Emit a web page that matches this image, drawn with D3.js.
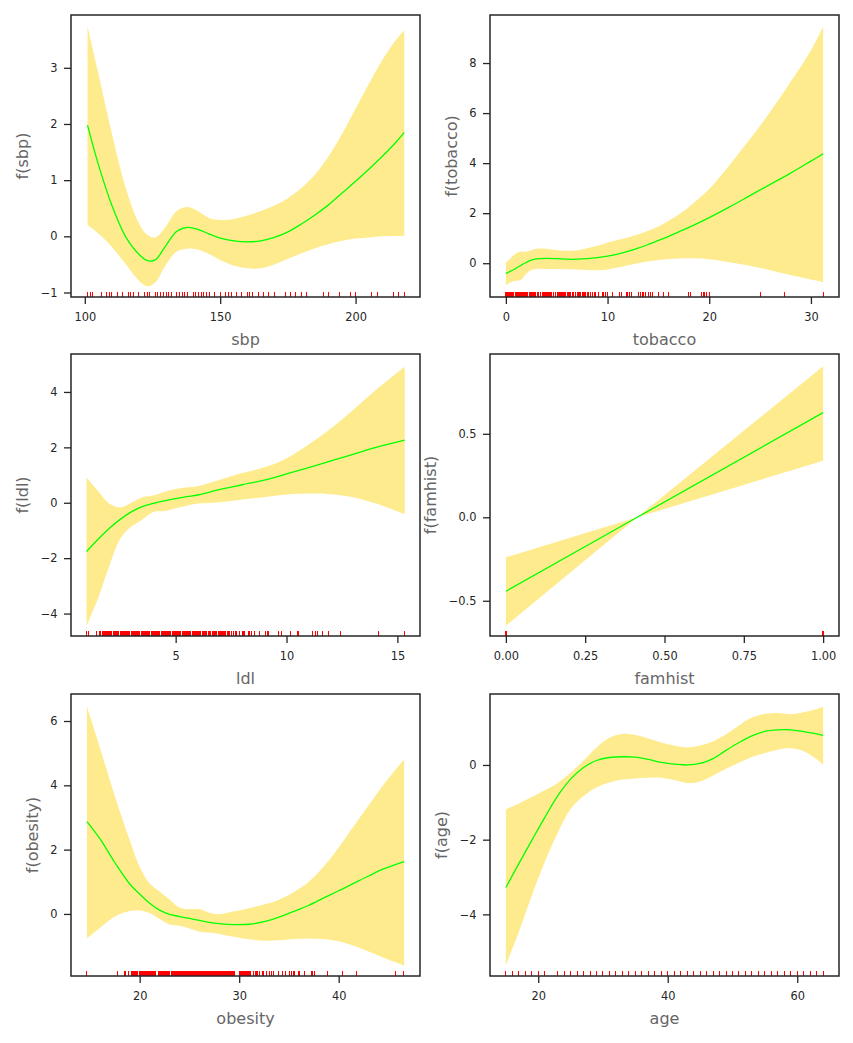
<!DOCTYPE html>
<html><head><meta charset="utf-8">
<script src="https://cdn.jsdelivr.net/npm/d3@7"></script>
<style>
body{margin:0;background:#fff}
text{font-family:"DejaVu Sans",sans-serif}
</style>
</head><body>
<svg id="c" width="853" height="1043"></svg>
<script>
// ---------- data ----------
const sbpX     = [101,105,110,115,120,123,126,130,134,138,142,146,150,155,160,165,170,175,180,185,190,195,200,205,210,215,218];
const sbpMean  = [1.98,1.28,0.55,0.0,-0.32,-0.43,-0.42,-0.16,0.09,0.16,0.12,0.04,-0.03,-0.08,-0.1,-0.08,-0.02,0.08,0.22,0.38,0.56,0.77,0.98,1.2,1.43,1.68,1.85];
const sbpUpper = [3.74,2.9,1.83,0.88,0.23,0.03,-0.02,0.18,0.45,0.52,0.44,0.32,0.29,0.31,0.37,0.45,0.55,0.68,0.86,1.1,1.42,1.82,2.27,2.72,3.15,3.5,3.67];
const sbpLower = [0.2,0.05,-0.19,-0.49,-0.79,-0.89,-0.82,-0.5,-0.27,-0.22,-0.24,-0.32,-0.42,-0.52,-0.57,-0.57,-0.5,-0.4,-0.3,-0.21,-0.14,-0.08,-0.04,-0.02,0,0.005,0.01];
const sbpRug   = [101,102,103,106,108,109,110,112,114,116,117,118,120,122,123,124,126,127,128,129,130,131,132,134,135,136,137,138,140,141,142,143,144,145,146,148,150,152,153,154,156,158,160,161,162,164,166,168,170,174,176,178,180,182,188,190,194,198,200,206,208,214,216,218];

const tobX     = [0,0.3,0.7,1,1.5,2,2.5,3,4,5,6,7,8,9,10,11,12,13,14,15,16,17,18,19,20,22,24,26,28,30,31.2];
const tobMean  = [-0.41,-0.35,-0.27,-0.2,-0.08,0.03,0.12,0.17,0.19,0.18,0.16,0.16,0.18,0.22,0.28,0.36,0.47,0.6,0.75,0.91,1.07,1.25,1.43,1.62,1.82,2.25,2.7,3.15,3.6,4.08,4.37];
const tobUpper = [0.05,0.12,0.3,0.4,0.47,0.46,0.52,0.58,0.58,0.52,0.5,0.52,0.6,0.7,0.83,0.93,1.03,1.15,1.3,1.47,1.7,1.95,2.25,2.6,2.97,3.93,4.96,6.05,7.25,8.5,9.45];
const tobLower = [-0.88,-0.8,-0.72,-0.7,-0.66,-0.42,-0.27,-0.23,-0.23,-0.23,-0.24,-0.25,-0.27,-0.28,-0.25,-0.17,-0.08,0.0,0.07,0.13,0.17,0.19,0.2,0.19,0.16,0.04,-0.1,-0.28,-0.47,-0.65,-0.75];
const tobRug   = [0,0.1,0.2,0.3,0.4,0.5,0.6,0.7,0.8,0.9,1.0,1.1,1.2,1.3,1.4,1.5,1.6,1.7,1.8,1.9,2.0,2.1,2.3,2.4,2.5,2.6,2.7,2.8,2.9,3.1,3.2,3.4,3.6,3.7,3.8,3.9,4.0,4.1,4.2,4.3,4.4,4.5,4.7,4.9,5.1,5.2,5.3,5.4,5.5,5.6,5.7,5.8,5.9,6.1,6.2,6.3,6.4,6.6,6.7,6.8,7.0,7.1,7.2,7.3,7.5,7.6,7.7,7.8,8.0,8.1,8.3,
  8.53,8.7,8.86,9.09,9.48,9.65,9.81,10.0,10.47,11.2,11.4,11.9,12.0,12.2,12.4,13.0,13.2,13.4,13.5,13.7,14.0,14.2,14.4,15.0,15.5,16.0,18.0,18.2,19.2,19.4,19.5,19.7,20.0,25.0,27.4,31.2];

const ldlX     = [0.98,1.5,2,2.5,3,3.5,4,4.5,5,5.5,6,7,8,9,10,11,12,13,14,15.33];
const ldlMean  = [-1.76,-1.32,-0.93,-0.6,-0.33,-0.14,-0.02,0.07,0.15,0.22,0.28,0.48,0.65,0.82,1.04,1.27,1.51,1.75,1.99,2.26];
const ldlUpper = [0.91,0.42,-0.03,-0.17,0.0,0.2,0.26,0.4,0.5,0.55,0.6,0.83,1.07,1.28,1.6,2.1,2.68,3.35,4.05,4.91];
const ldlLower = [-4.45,-3.45,-2.3,-1.3,-0.86,-0.6,-0.33,-0.3,-0.2,-0.11,-0.03,0.02,0.12,0.2,0.3,0.33,0.31,0.2,-0.02,-0.41];
const ldlRug   = [0.99,1.07,1.44,1.55,1.59,1.7,1.74,1.78,1.82,1.86,1.9,1.94,1.98,2.02,2.06,2.09,2.19,
  2.24,2.29,2.34,2.39,2.44,2.49,2.54,2.59,2.64,2.69,2.74,2.79,2.84,2.89,2.94,2.99,3.04,3.09,3.14,3.19,3.24,3.29,3.34,3.39,3.44,3.49,3.54,3.59,3.64,3.69,3.74,3.79,3.84,3.89,3.94,3.99,
  4.04,4.09,4.14,4.19,4.24,4.29,4.34,4.39,4.44,4.49,4.54,4.59,4.64,4.69,4.74,4.79,4.84,4.89,4.94,4.99,5.04,5.09,5.14,5.19,5.24,5.29,5.34,5.39,5.44,5.49,5.54,5.59,5.64,5.69,5.74,5.79,
  5.84,5.89,5.94,5.99,6.04,6.09,6.14,6.19,6.24,6.29,6.34,6.39,6.49,6.54,6.59,6.64,6.69,6.74,6.79,6.84,6.92,6.97,7.02,7.07,7.12,7.17,7.22,7.27,7.32,7.37,7.44,
  7.52,7.6,7.7,7.75,7.9,8.0,8.05,8.12,8.3,8.35,8.42,8.55,8.8,9.06,9.12,9.18,9.66,9.78,10.2,10.5,10.55,11.17,11.29,11.41,11.62,11.89,12.42,14.16,15.32];

const famX     = [0,0.414,1];
const famMean  = [-0.443,0.0,0.627];
const famUpper = [-0.24,0.0,0.904];
const famLower = [-0.649,0.0,0.339];
const famRug   = [0,1];

const obeX     = [14.7,16,17.5,19,20,21,22,23,24,25,26,27,28,29.5,31,32.5,34,35.5,37,38.5,40,41.5,43,44.5,46.58];
const obeMean  = [2.87,2.34,1.6,0.93,0.62,0.33,0.12,-0.01,-0.08,-0.14,-0.2,-0.26,-0.3,-0.33,-0.32,-0.24,-0.1,0.08,0.27,0.5,0.72,0.95,1.18,1.4,1.63];
const obeUpper = [6.45,5.18,3.67,2.3,1.47,0.95,0.7,0.45,0.2,0.15,0.15,0.04,-0.01,0.08,0.18,0.29,0.44,0.68,1.0,1.48,2.07,2.73,3.37,4.02,4.81];
const obeLower = [-0.76,-0.44,-0.08,0.09,0.11,0.03,-0.16,-0.33,-0.37,-0.45,-0.55,-0.58,-0.62,-0.71,-0.79,-0.83,-0.82,-0.78,-0.76,-0.78,-0.85,-0.99,-1.17,-1.36,-1.6];
const obeRug   = [14.7,17.82,18.43,18.56,18.83,19.2,19.3,19.4,19.5,19.6,19.7,19.8,20.0,20.1,20.2,20.3,20.4,20.5,20.6,20.7,20.8,20.9,21.0,21.1,21.2,21.3,21.4,21.5,21.6,
  21.85,21.95,22.05,22.15,22.25,22.35,22.45,22.55,22.65,22.75,22.85,22.95,
  23.15,23.25,23.35,23.45,23.55,23.65,23.75,23.85,23.95,24.05,24.15,24.25,24.35,24.45,24.55,24.65,24.75,24.85,24.95,25.05,25.15,25.25,25.35,25.45,25.55,25.65,25.75,25.85,25.95,
  26.05,26.15,26.25,26.35,26.45,26.55,26.65,26.75,26.85,26.95,27.05,27.15,27.25,27.35,27.45,27.55,27.65,27.75,27.85,27.95,28.05,28.15,28.25,28.35,28.45,28.55,28.65,28.75,28.85,28.95,
  29.05,29.15,29.25,29.35,29.45,29.55,30.05,30.15,30.25,30.35,30.45,30.55,30.65,30.75,30.85,30.95,31.05,31.15,
  31.46,31.59,31.73,31.89,32.09,32.33,32.46,32.73,33.0,33.23,33.4,33.97,34.4,34.64,35.08,35.24,35.41,35.58,35.98,36.08,36.52,37.25,37.39,37.52,38.83,40.34,41.78,45.73,46.53];

const ageX     = [15,17,19,21,23,25,27,29,31,33,35,37,39,41,43,45,47,49,51,53,55,57,59,61,63,64];
const ageMean  = [-3.28,-2.64,-2.02,-1.41,-0.83,-0.38,-0.07,0.12,0.2,0.22,0.21,0.15,0.07,0.02,0.0,0.04,0.17,0.39,0.6,0.78,0.9,0.94,0.94,0.89,0.83,0.79];
const ageUpper = [-1.19,-1.03,-0.86,-0.68,-0.48,-0.21,0.12,0.47,0.73,0.83,0.8,0.71,0.6,0.52,0.47,0.52,0.63,0.82,1.06,1.27,1.37,1.39,1.36,1.41,1.5,1.56];
const ageLower = [-5.36,-4.47,-3.5,-2.6,-1.82,-1.18,-0.83,-0.6,-0.47,-0.39,-0.36,-0.34,-0.34,-0.4,-0.48,-0.44,-0.28,-0.1,0.06,0.21,0.32,0.41,0.45,0.37,0.15,0.0];
const ageRug   = [15,16,17,18,19,20,21,23,24,25,26,27,28,29,30,31,32,33,34,35,36,37,38,39,40,41,42,43,44,45,46,47,48,49,50,51,52,53,54,55,56,57,58,59,60,61,62,63,64];

// tick labels
const sbpXTicks=[100,150,200], sbpYTicks=[-1,0,1,2,3];
const tobXTicks=[0,10,20,30], tobYTicks=[0,2,4,6,8];
const ldlXTicks=[5,10,15], ldlYTicks=[-4,-2,0,2,4];
const famXTicks=[0,0.25,0.5,0.75,1], famYTicks=[-0.5,0,0.5];
const obeXTicks=[20,30,40], obeYTicks=[0,2,4,6];
const ageXTicks=[20,40,60], ageYTicks=[-4,-2,0];

// ---------- layout / styling ----------
const cols=[[71,420],[490,839]];
const rows=[[15,297],[354,636],[694,976]];
const smooth=d3.curveCatmullRom.alpha(0.5);

const panels=[
 {name:"sbp",x:sbpX,mean:sbpMean,up:sbpUpper,lo:sbpLower,rug:sbpRug,xd:[94.9,223.8],yd:[-1.08,3.94],xt:sbpXTicks,yt:sbpYTicks,xf:"d",yf:"d",c:0,r:0,curve:smooth},
 {name:"tobacco",x:tobX,mean:tobMean,up:tobUpper,lo:tobLower,rug:tobRug,xd:[-1.56,32.76],yd:[-1.35,9.92],xt:tobXTicks,yt:tobYTicks,xf:"d",yf:"d",c:1,r:0,curve:smooth},
 {name:"ldl",x:ldlX,mean:ldlMean,up:ldlUpper,lo:ldlLower,rug:ldlRug,xd:[0.28,16.02],yd:[-4.81,5.37],xt:ldlXTicks,yt:ldlYTicks,xf:"d",yf:"d",c:0,r:1,curve:smooth},
 {name:"famhist",x:famX,mean:famMean,up:famUpper,lo:famLower,rug:famRug,xd:[-0.05,1.05],yd:[-0.711,0.978],xt:famXTicks,yt:famYTicks,xf:".2f",yf:".1f",c:1,r:1,curve:d3.curveLinear,rugW:2.5},
 {name:"obesity",x:obeX,mean:obeMean,up:obeUpper,lo:obeLower,rug:obeRug,xd:[13.1,48.17],yd:[-1.93,6.84],xt:obeXTicks,yt:obeYTicks,xf:"d",yf:"d",c:0,r:2,curve:smooth},
 {name:"age",x:ageX,mean:ageMean,up:ageUpper,lo:ageLower,rug:ageRug,xd:[12.55,66.45],yd:[-5.65,1.9],xt:ageXTicks,yt:ageYTicks,xf:"d",yf:"d",c:1,r:2,curve:smooth}
];

const svg=d3.select("#c");
svg.append("rect").attr("width",853).attr("height",1043).attr("fill","#fff");

panels.forEach(p=>{
  const [x0,x1]=cols[p.c], [y0,y1]=rows[p.r];
  const xs=d3.scaleLinear().domain(p.xd).range([x0,x1]);
  const ys=d3.scaleLinear().domain(p.yd).range([y1,y0]);
  const pts=p.x.map((v,i)=>({x:v,m:p.mean[i],u:p.up[i],l:p.lo[i]}));
  const g=svg.append("g");

  g.append("path").datum(pts)
    .attr("d",d3.area().x(d=>xs(d.x)).y0(d=>ys(d.l)).y1(d=>ys(d.u)).curve(p.curve))
    .attr("fill","rgb(254,235,141)");
  g.append("path").datum(pts)
    .attr("d",d3.line().x(d=>xs(d.x)).y(d=>ys(d.m)).curve(p.curve))
    .attr("fill","none").attr("stroke","#00ff00").attr("stroke-width",1.3);

  g.append("g").attr("shape-rendering","crispEdges").selectAll("line").data(p.rug).join("line")
    .attr("x1",d=>xs(d)).attr("x2",d=>xs(d))
    .attr("y1",y1-5.5).attr("y2",y1)
    .attr("stroke","#ff0000").attr("stroke-width",p.rugW||1);

  // x axis
  const ax=g.append("g").attr("transform",`translate(0,${y1})`)
    .call(d3.axisBottom(xs).tickValues(p.xt).tickFormat(d3.format(p.xf)).tickSize(7).tickPadding(9));
  // y axis
  const ay=g.append("g").attr("transform",`translate(${x0},0)`)
    .call(d3.axisLeft(ys).tickValues(p.yt).tickFormat(d3.format(p.yf)).tickSize(7).tickPadding(6.5));
  [ax,ay].forEach(a=>{
    a.select(".domain").remove();
    a.selectAll(".tick line").attr("stroke","#262626").attr("stroke-width",1.3);
    a.selectAll(".tick text").attr("fill","#262626").style("font-size","11.4px").style("font-family","DejaVu Sans");
  });

  // spines
  g.append("rect").attr("x",x0).attr("y",y0).attr("width",x1-x0).attr("height",y1-y0)
    .attr("fill","none").attr("stroke","#262626").attr("stroke-width",1.5);

  // labels
  g.append("text").attr("x",(x0+x1)/2).attr("y",y1+47.5).attr("text-anchor","middle")
    .attr("fill","#666").style("font-size","16px").text(p.name);
  let minX=x0;
  ay.selectAll(".tick text").each(function(){const b=this.getBBox();const m=this.getCTM();minX=Math.min(minX,b.x+m.e);});
  const bx=minX-12.5, cy=(y0+y1)/2;
  g.append("text").attr("transform",`translate(${bx},${cy}) rotate(-90)`).attr("text-anchor","middle")
    .attr("fill","#666").style("font-size","16px").text(`f(${p.name})`);
});
</script>
</body></html>
